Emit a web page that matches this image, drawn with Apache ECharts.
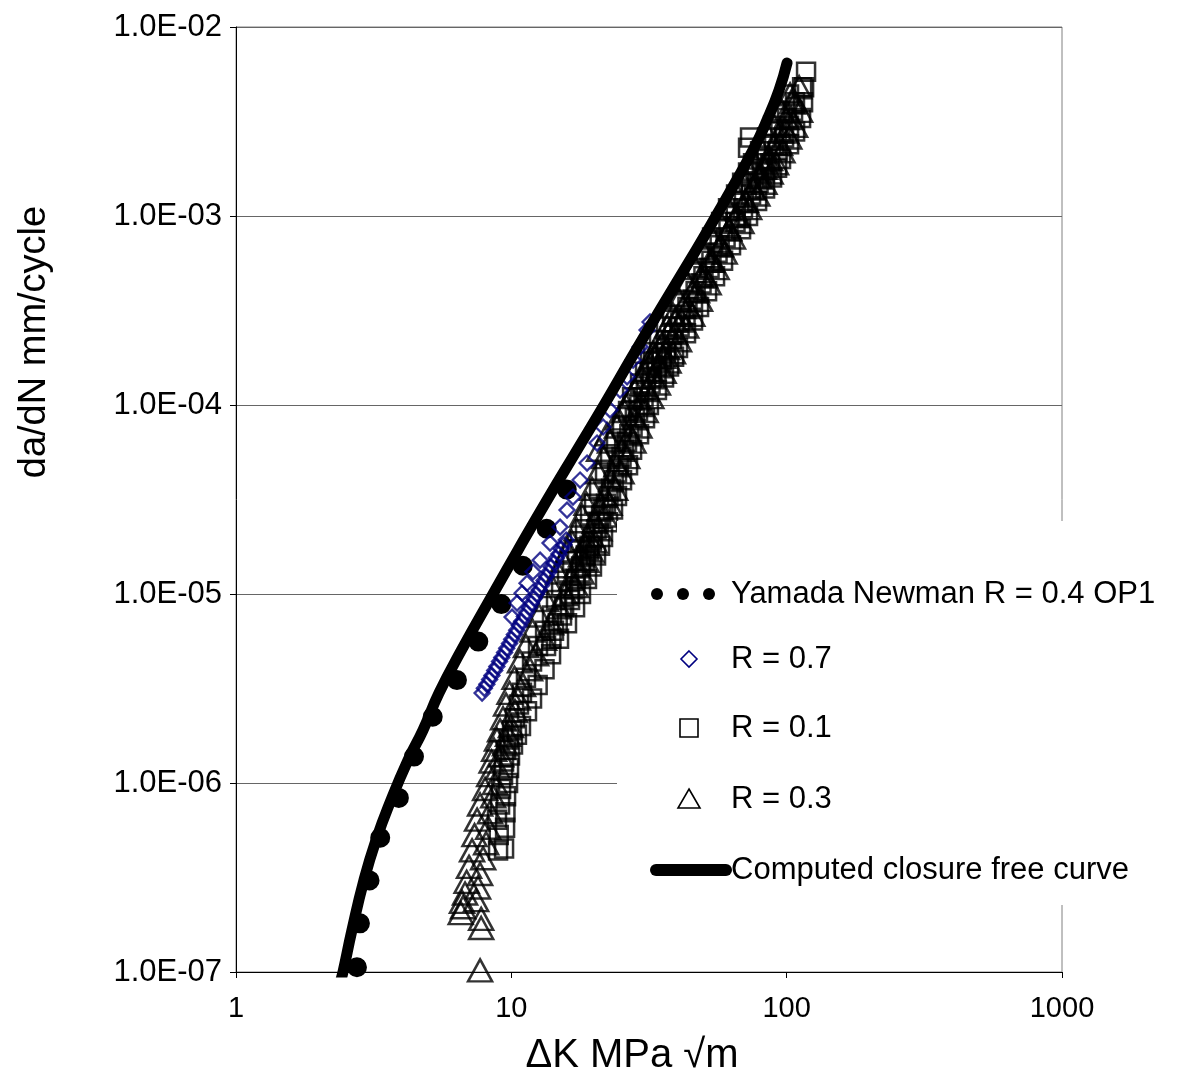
<!DOCTYPE html>
<html><head><meta charset="utf-8">
<script src="https://cdn.jsdelivr.net/npm/echarts@6/dist/echarts.min.js"></script>
<style>html,body{margin:0;padding:0;background:#fff}#c{width:1179px;height:1084px}</style>
</head><body><div id="c"></div>
<script>
// ---------------- data (ΔK in MPa√m, da/dN in mm/cycle) ----------------
const seriesNames = ['Yamada Newman R = 0.4 OP1', 'R = 0.7', 'R = 0.1', 'R = 0.3', 'Computed closure free curve'];
const xTicks = [1, 10, 100, 1000];
const xTickLabels = ['1', '10', '100', '1000'];
const yTicks = [1e-7, 1e-6, 1e-5, 1e-4, 1e-3, 1e-2];
const yTickLabels = ['1.0E-07', '1.0E-06', '1.0E-05', '1.0E-04', '1.0E-03', '1.0E-02'];

const yamadaNewman = [[2.75,1.06e-7],[2.82,1.82e-7],[3.04,2.96e-7],[3.31,4.99e-7],[3.88,8.13e-7],[4.40,1.35e-6],[5.15,2.21e-6],[6.35,3.51e-6],[7.57,5.57e-6],[9.25,8.96e-6],[11.03,1.42e-5],[13.48,2.23e-5],[16.34,3.86e-5],[16.6,4.0e-5]];

const r07 = [[7.83,2.99e-6],[7.98,3.17e-6],[8.15,3.33e-6],[8.34,3.53e-6],[8.50,3.71e-6],[8.70,3.94e-6],[8.86,4.14e-6],[9.06,4.40e-6],[9.23,4.62e-6],[9.45,4.90e-6],[9.62,5.16e-6],[9.85,5.47e-6],[10.03,5.76e-6],[10.26,6.10e-6],[10.46,6.43e-6],[10.70,6.81e-6],[10.90,7.17e-6],[11.15,7.60e-6],[11.36,8.00e-6],[11.62,8.48e-6],[11.84,8.93e-6],[12.11,9.46e-6],[12.34,9.97e-6],[12.62,1.05e-5],[12.86,1.11e-5],[13.15,1.18e-5],[13.41,1.24e-5],[13.71,1.31e-5],[13.97,1.39e-5],[14.29,1.46e-5],[14.56,1.55e-5],[14.89,1.63e-5],[15.18,1.73e-5],[15.52,1.82e-5],[15.82,1.93e-5],
[10.06,7.55e-6],[10.49,8.95e-6],[10.94,1.01e-5],[11.40,1.14e-5],[11.99,1.31e-5],[12.72,1.51e-5],[13.82,1.86e-5],[15.03,2.26e-5],[15.93,2.78e-5],[16.75,3.26e-5],[17.77,4.01e-5],[18.84,4.93e-5],[20.48,6.29e-5],[21.54,7.65e-5],[22.83,9.42e-5],[24.82,1.20e-4],[26.32,1.41e-4],[27.68,1.73e-4],[29.35,2.03e-4],[31.11,2.49e-4],[31.9,2.75e-4]];

const r01 = [[9.41,4.5e-7],[9.49,5.8e-7],[9.52,7.0e-7],[9.57,8.5e-7],[9.73,1.0e-6],[9.81,1.2e-6],[9.89,1.4e-6],[10.14,1.6e-6],[10.48,1.8e-6],[10.84,2.0e-6],[11.40,2.4e-6],[11.89,2.8e-6],[12.46,3.3e-6],[13.20,4.0e-6],[13.94,4.8e-6],[14.90,5.8e-6],[15.93,7.0e-6],[17.04,8.5e-6],[17.91,1.0e-5],[18.83,1.2e-5],[19.63,1.4e-5],[20.31,1.6e-5],[21.00,1.8e-5],[21.53,2.0e-5],[22.45,2.4e-5],[23.41,2.8e-5],[24.20,3.3e-5],[25.24,4.0e-5],[26.54,4.8e-5],[27.45,5.8e-5],[29.10,7.0e-5],[30.59,8.5e-5],[31.60,1.0e-4],[33.80,1.2e-4],[35.86,1.4e-4],[37.39,1.6e-4],[39.00,1.8e-4],[40.30,2.0e-4],[43.10,2.4e-4],[45.70,2.8e-4],[48.06,3.3e-4],[51.40,4.0e-4],[54.94,4.8e-4],[58.75,5.8e-4],[62.80,7.0e-4],[68.30,8.5e-4],[72.40,1.0e-3],[78.10,1.2e-3],[83.48,1.4e-3],[88.50,1.6e-3],[92.30,1.8e-3],[95.40,2.0e-3],[102.0,2.4e-3],[107.3,2.8e-3],[112.8,3.3e-3],[114.7,4.0e-3],[115.7,4.8e-3],[117.6,5.8e-3],
[8.95,4.4e-7],[9.00,5.3e-7],[8.87,6.4e-7],[9.10,7.7e-7],[9.18,9.3e-7],[9.33,1.1e-6],[9.41,1.3e-6],[9.57,1.5e-6],[9.81,1.7e-6],[10.06,1.9e-6],[10.31,2.2e-6],[10.66,2.6e-6],[10.93,3.0e-6],[11.30,3.6e-6],[11.89,4.4e-6],[12.50,5.3e-6],[13.26,6.4e-6],[14.05,7.7e-6],[14.53,9.3e-6],[15.16,1.1e-5],[15.93,1.3e-5],[16.62,1.5e-5],[17.33,1.7e-5],[17.76,1.9e-5],[18.52,2.2e-5],[19.31,2.6e-5],[19.97,3.0e-5],[20.83,3.6e-5],[21.89,4.4e-5],[22.83,5.3e-5],[24.00,6.4e-5],[25.24,7.7e-5],[26.54,9.3e-5],[27.45,1.1e-4],[29.34,1.3e-4],[30.59,1.5e-4],[31.90,1.7e-4],[32.72,1.9e-4],[34.39,2.2e-4],[36.46,2.6e-4],[38.35,3.0e-4],[41.00,3.6e-4],[43.83,4.4e-4],[47.27,5.3e-4],[50.53,6.4e-4],[53.60,7.7e-4],[57.80,9.3e-4],[61.25,1.1e-3],[65.50,1.3e-3],[68.90,1.5e-3],[72.40,1.7e-3],[75.50,1.9e-3],[80.06,2.2e-3],[84.90,2.6e-3],[89.30,3.0e-3],[94.60,3.6e-3],[102.0,4.4e-3],[73.6,2.6e-3],[72.4,2.3e-3],
[13.37,5.3e-6],[14.29,6.4e-6],[15.28,7.7e-6],[16.34,9.3e-6],[17.04,1.1e-5],[17.84,1.3e-5],[18.52,1.5e-5],[19.15,1.7e-5],[19.63,1.9e-5],[20.39,2.2e-5],[21.18,2.6e-5],[22.07,3.0e-5],[23.02,3.6e-5],[24.20,4.4e-5],[25.13,5.3e-5],[26.32,6.4e-5],[27.56,7.7e-5],[28.85,9.3e-5],[30.21,1.1e-4],[32.03,1.3e-4],[33.68,1.5e-4],[35.12,1.7e-4],[36.46,1.9e-4],[38.35,2.2e-4],[40.83,2.6e-4],[42.93,3.0e-4],[45.70,3.6e-4],[49.07,4.4e-4],[52.47,5.3e-4],[56.10,6.4e-4],[60.00,7.7e-4],[65.20,9.3e-4],[69.40,1.1e-3],[74.25,1.3e-3],[79.06,1.5e-3],[83.13,1.7e-3],[87.05,1.9e-3],[92.70,2.2e-3],[97.85,2.6e-3],[102.0,3.0e-3],[105.5,3.6e-3],
[13.99,5.8e-6],[14.74,7.0e-6],[15.55,8.5e-6],[16.27,1.0e-5],[17.15,1.2e-5],[17.92,1.4e-5],[18.63,1.6e-5],[19.24,1.8e-5],[19.79,2.0e-5],[20.76,2.4e-5],[21.60,2.8e-5],[22.53,3.3e-5],[23.54,4.0e-5],[24.57,4.8e-5],[25.69,5.8e-5],[26.83,7.0e-5],[28.09,8.5e-5],[29.17,1.0e-4],[30.80,1.2e-4],[32.38,1.4e-4],[33.85,1.6e-4],[35.18,1.8e-4],[36.46,2.0e-4],[38.93,2.4e-4],[41.10,2.8e-4],[43.62,3.3e-4],[46.71,4.0e-4],[49.86,4.8e-4],[53.31,5.8e-4],[57.10,7.0e-4],[61.46,8.5e-4],[65.33,1.0e-3],[69.97,1.2e-3],[74.06,1.4e-3],[77.82,1.6e-3],[81.28,1.8e-3],[84.53,2.0e-3],[90.01,2.4e-3],[94.90,2.8e-3],[100.3,3.3e-3],[107.2,4.0e-3],[113.8,4.8e-3]];

const r03 = [[6.68,2.2e-7],[6.79,2.6e-7],[6.88,3.0e-7],[7.02,3.6e-7],[7.20,4.4e-7],[7.35,5.3e-7],[7.51,6.4e-7],[7.70,7.7e-7],[8.03,9.3e-7],[8.31,1.1e-6],[8.48,1.3e-6],[8.66,1.5e-6],[8.87,1.7e-6],[9.10,1.9e-6],[9.33,2.2e-6],[9.57,2.6e-6],[9.85,3.0e-6],[10.27,3.6e-6],[10.75,4.4e-6],[11.30,5.3e-6],[11.94,6.4e-6],[12.61,7.7e-6],[13.37,9.3e-6],[14.05,1.1e-5],[14.78,1.3e-5],[15.41,1.5e-5],[16.07,1.7e-5],[16.55,1.9e-5],[17.25,2.2e-5],[18.06,2.6e-5],[18.75,3.0e-5],[19.63,3.6e-5],[20.66,4.4e-5],[21.72,5.3e-5],[22.83,6.4e-5],[24.20,7.7e-5],[25.77,9.3e-5],[27.20,1.1e-4],[28.82,1.3e-4],[30.34,1.5e-4],[31.60,1.7e-4],[32.72,1.9e-4],[34.68,2.2e-4],[36.77,2.6e-4],[38.70,3.0e-4],[40.66,3.6e-4],[43.65,4.4e-4],[46.67,5.3e-4],[50.10,6.4e-4],[53.60,7.7e-4],[57.50,9.3e-4],[61.50,1.1e-3],[65.80,1.3e-3],[69.70,1.5e-3],[73.30,1.7e-3],[76.78,1.9e-3],[81.40,2.2e-3],[86.30,2.6e-3],[90.00,3.0e-3],[95.80,3.6e-3],[102.9,4.4e-3],
[7.45,2.4e-7],[7.57,2.8e-7],[7.70,3.3e-7],[7.90,4.0e-7],[8.10,4.8e-7],[8.24,5.8e-7],[8.37,7.0e-7],[8.59,8.5e-7],[8.73,1.0e-6],[8.95,1.2e-6],[9.18,1.4e-6],[9.49,1.6e-6],[9.73,1.8e-6],[9.97,2.0e-6],[10.31,2.4e-6],[10.57,2.8e-6],[11.03,3.3e-6],[11.69,4.0e-6],[12.30,4.8e-6],[13.15,5.8e-6],[13.94,7.0e-6],[14.90,8.5e-6],[15.67,1.0e-5],[16.48,1.2e-5],[17.25,1.4e-5],[17.91,1.6e-5],[18.52,1.8e-5],[19.05,2.0e-5],[20.06,2.4e-5],[20.90,2.8e-5],[21.89,3.3e-5],[23.02,4.0e-5],[24.10,4.8e-5],[25.24,5.8e-5],[26.99,7.0e-5],[28.26,8.5e-5],[29.34,1.0e-4],[31.10,1.2e-4],[32.72,1.4e-4],[34.39,1.6e-4],[35.56,1.8e-4],[36.77,2.0e-4],[39.32,2.4e-4],[41.50,2.8e-4],[43.83,3.3e-4],[47.27,4.0e-4],[50.53,4.8e-4],[53.60,5.8e-4],[57.77,7.0e-4],[61.80,8.5e-4],[65.50,1.0e-3],[70.62,1.2e-3],[75.50,1.4e-3],[79.40,1.6e-3],[83.48,1.8e-3],[87.05,2.0e-3],[94.64,2.4e-3],[99.50,2.8e-3],[103.8,3.3e-3],[107.3,4.0e-3],[111.0,4.8e-3],
[20.83,5.8e-5],[22.26,7.0e-5],[24.41,8.5e-5],[26.10,1.0e-4],[28.14,1.2e-4],[29.84,1.4e-4],[31.50,1.6e-4],[32.98,1.8e-4],[34.39,2.0e-4],[37.08,2.4e-4],[39.32,2.8e-4],[42.04,3.3e-4],[45.51,4.0e-4],[48.87,4.8e-4],[52.69,5.8e-4],[57.29,7.0e-4],[61.77,8.5e-4],[66.05,1.0e-3],[71.21,1.2e-3],[75.50,1.4e-3],[79.39,1.6e-3],[82.44,1.8e-3],[85.60,2.0e-3],[90.77,2.4e-3],[95.04,2.8e-3],[99.50,3.3e-3],[104.6,4.0e-3],
[17.18,1.1e-5],[17.98,1.3e-5],[18.75,1.5e-5],[19.47,1.7e-5],[20.06,1.9e-5],[20.88,2.2e-5],[21.85,2.6e-5],[22.73,3.0e-5],[23.84,3.6e-5],[25.13,4.4e-5],[26.38,5.3e-5],[27.77,6.4e-5],[29.19,7.7e-5],[30.75,9.3e-5],[32.25,1.1e-4],[34.08,1.3e-4],[35.74,1.5e-4],[37.24,1.7e-4],[38.64,1.9e-4],[40.66,2.2e-4],[43.18,2.6e-4],[45.43,3.0e-4],[48.46,3.6e-4],[52.08,4.4e-4],[55.68,5.3e-4],[59.54,6.4e-4],[63.82,7.7e-4],[68.52,9.3e-4],[73.07,1.1e-3],[78.27,1.3e-3],[83.06,1.5e-3],[87.49,1.7e-3],[91.53,1.9e-3],[96.56,2.2e-3],[102.2,2.6e-3],[107.3,3.0e-3],[111.9,3.6e-3],
[7.70,1.02e-7],[7.77,1.71e-7],[7.77,1.91e-7],[6.55,2.05e-7],[6.62,2.35e-7]];

const computedCurve = [[2.40,0.9e-7],[2.447,1.0e-7],[2.638,1.667e-7],[2.917,3.07e-7],[3.226,4.995e-7],[3.656,8.13e-7],[4.216,1.323e-6],[4.778,1.905e-6],[5.464,2.995e-6],[6.566,4.995e-6],[8.581,1.0e-5],[10.58,1.71e-5],[13.48,3.14e-5],[17.33,5.78e-5],[21.72,1.0e-4],[28.38,1.954e-4],[36.48,3.60e-4],[46.9,6.61e-4],[55.4,1.0e-3],[62.8,1.373e-3],[75.5,2.234e-3],[84.9,3.221e-3],[93.85,4.642e-3],[100.3,6.45e-3]];

// ---------------- chart ----------------
const FONT = '"Liberation Sans", Arial, sans-serif';
const chart = echarts.init(document.getElementById('c'), null, {renderer: 'canvas'});

function labelFor(ticks, labels, v) {
  let best = 0;
  for (let i = 1; i < ticks.length; i++) {
    if (Math.abs(Math.log10(ticks[i]) - Math.log10(v)) < Math.abs(Math.log10(ticks[best]) - Math.log10(v))) best = i;
  }
  return labels[best];
}

const legendX = 731;
const legendRows = [594, 659, 728, 799, 870];
const symX = 689;
const legendFont = 31;

const option = {
  animation: false,
  backgroundColor: '#fff',
  grid: {left: 236, right: 117, top: 27, bottom: 112, show: true, borderColor: '#808080', borderWidth: 1, backgroundColor: 'transparent', containLabel: false, outerBoundsMode: 'none'},
  xAxis: {
    type: 'log', logBase: 10, min: xTicks[0], max: xTicks[xTicks.length - 1],
    axisLine: {show: true, onZero: false, lineStyle: {color: '#000', width: 1}},
    axisTick: {show: true, inside: false, length: 6, lineStyle: {color: '#000'}},
    minorTick: {show: false},
    axisLabel: {show: true, margin: 22, color: '#000', fontSize: 29, fontFamily: FONT,
      formatter: v => labelFor(xTicks, xTickLabels, v)},
    splitLine: {show: false},
    name: 'ΔK MPa √m', nameLocation: 'middle', nameGap: 64,
    nameTextStyle: {color: '#000', fontSize: 40, fontFamily: FONT, padding: [0, 34, 0, 0]}
  },
  yAxis: {
    type: 'log', logBase: 10, min: yTicks[0], max: yTicks[yTicks.length - 1],
    axisLine: {show: true, onZero: false, lineStyle: {color: '#000', width: 1}},
    axisTick: {show: true, inside: false, length: 6, lineStyle: {color: '#000'}},
    minorTick: {show: false},
    axisLabel: {show: true, margin: 14, color: '#000', fontSize: 31, fontFamily: FONT,
      formatter: v => labelFor(yTicks, yTickLabels, v)},
    splitLine: {show: true, lineStyle: {color: '#666', width: 1}}
  },
  series: [
    {type: 'line', name: seriesNames[0], data: yamadaNewman, symbol: 'none', showSymbol: false, smooth: false, clip: true, silent: true, z: 2,
      lineStyle: {color: '#000', width: 20, type: [0, 44], cap: 'round', join: 'round'}},
    {type: 'scatter', name: seriesNames[2], data: r01, symbol: 'rect', symbolSize: 18, silent: true, z: 3,
      itemStyle: {color: 'rgba(0,0,0,0)', borderColor: '#000', borderWidth: 2.5}},
    {type: 'scatter', name: seriesNames[3], data: r03, symbol: 'triangle', symbolSize: [24, 22], silent: true, z: 3,
      itemStyle: {color: 'rgba(0,0,0,0)', borderColor: '#000', borderWidth: 2.5}},
    {type: 'scatter', name: seriesNames[1], data: r07, symbol: 'diamond', symbolSize: 15, silent: true, z: 4,
      itemStyle: {color: 'rgba(0,0,0,0)', borderColor: '#000080', borderWidth: 2.3}},
    {type: 'line', name: seriesNames[4], data: computedCurve, symbol: 'none', showSymbol: false, smooth: 0.5, clip: true, silent: true, z: 5,
      lineStyle: {color: '#000', width: 11, cap: 'round', join: 'round'}}
  ],
  graphic: [
    {type: 'text', x: 35, y: 342, rotation: Math.PI / 2, z: 100,
      style: {text: 'da/dN mm/cycle', fill: '#000', fontSize: 38, fontFamily: FONT, align: 'center', verticalAlign: 'middle'}},
    // legend box
    {type: 'rect', shape: {x: 617, y: 521, width: 560, height: 384}, style: {fill: '#fff'}, z: 100},
    {type: 'circle', shape: {cx: 657, cy: legendRows[0], r: 6}, style: {fill: '#000'}, z: 101},
    {type: 'circle', shape: {cx: 683, cy: legendRows[0], r: 6}, style: {fill: '#000'}, z: 101},
    {type: 'circle', shape: {cx: 709, cy: legendRows[0], r: 6}, style: {fill: '#000'}, z: 101},
    {type: 'polygon', shape: {points: [[symX, legendRows[1] - 8], [symX + 8, legendRows[1]], [symX, legendRows[1] + 8], [symX - 8, legendRows[1]]]},
      style: {fill: 'none', stroke: '#000080', lineWidth: 1.6}, z: 101},
    {type: 'rect', shape: {x: symX - 9, y: legendRows[2] - 9, width: 18, height: 18}, style: {fill: 'none', stroke: '#000', lineWidth: 1.6}, z: 101},
    {type: 'polygon', shape: {points: [[symX, legendRows[3] - 10], [symX + 11, legendRows[3] + 9], [symX - 11, legendRows[3] + 9]]},
      style: {fill: 'none', stroke: '#000', lineWidth: 1.6}, z: 101},
    {type: 'line', shape: {x1: 656, y1: legendRows[4], x2: 726, y2: legendRows[4]}, style: {stroke: '#000', lineWidth: 12, lineCap: 'round'}, z: 101},
    {type: 'text', x: legendX, y: legendRows[0], z: 101, style: {text: seriesNames[0], fill: '#000', fontSize: legendFont, fontFamily: FONT, verticalAlign: 'middle'}},
    {type: 'text', x: legendX, y: legendRows[1], z: 101, style: {text: seriesNames[1], fill: '#000', fontSize: legendFont, fontFamily: FONT, verticalAlign: 'middle'}},
    {type: 'text', x: legendX, y: legendRows[2], z: 101, style: {text: seriesNames[2], fill: '#000', fontSize: legendFont, fontFamily: FONT, verticalAlign: 'middle'}},
    {type: 'text', x: legendX, y: legendRows[3], z: 101, style: {text: seriesNames[3], fill: '#000', fontSize: legendFont, fontFamily: FONT, verticalAlign: 'middle'}},
    {type: 'text', x: legendX, y: legendRows[4], z: 101, style: {text: seriesNames[4], fill: '#000', fontSize: legendFont, fontFamily: FONT, verticalAlign: 'middle'}}
  ]
};
chart.setOption(option);
</script>
</body></html>
